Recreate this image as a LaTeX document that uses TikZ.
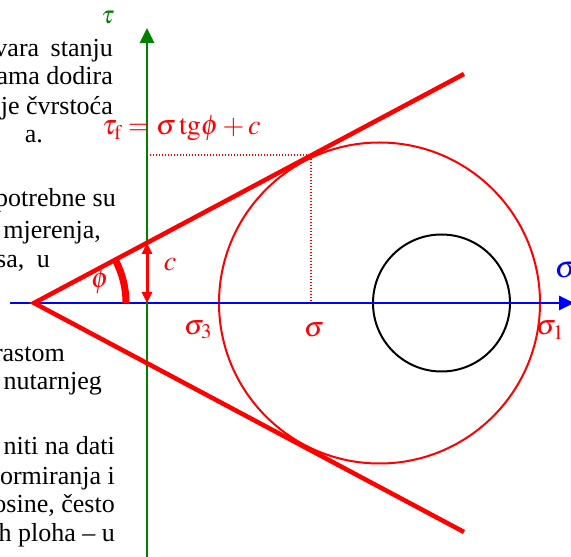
\documentclass[tikz,border=0pt]{standalone}
\usepackage{mathptmx}
\usepackage{fontspec}
\setmainfont{Liberation Serif}
\usetikzlibrary{arrows.meta,calc}
\definecolor{taugreen}{RGB}{0,128,0}

\begin{document}
\begin{tikzpicture}[
  x=1pt,y=1pt,
  font=\fontsize{28}{32}\selectfont,
  >={Triangle[length=15pt,width=14pt]},
  axis/.style={->,line width=2.8pt},
  env/.style={draw=red,line width=4.5pt},
  mohr/.style={draw=#1,line width=2pt},
  guide/.style={draw=red,line width=1.4pt,dash pattern=on 1.4pt off 1.6pt},
  lbl/.style={text=red,inner sep=0pt},
  body/.style={anchor=base east,inner sep=0pt,font=\fontsize{26}{29}\selectfont},
]
\useasboundingbox (0,0) rectangle (571,557);

% ---- page text behind the figure ----
\foreach \txt/\xr/\yb [count=\i] in {
    {vara\hspace{5pt} stanju}/113/500, {ama dodira}/113/472, {je čvrstoća}/113/442,
    {a.}/43/414, {potrebne su}/116/350, {mjerenja,}/101/318, {sa,\hspace{6pt} u}/50/289,
    {rastom}/65/195, {nutarnjeg}/102/167, {niti na dati}/115/102,
    {ormiranja i}/115/72, {osine, često}/115/44, {h ploha -- u}/115/15}
  \node[body] (txt\i) at (\xr,\yb) {\txt};

% ---- points ----
\coordinate (O) at (34,254);
\coordinate (U) at (464,483);
\coordinate (L) at (464,25);
\coordinate (C1) at (379.5,254);
\coordinate (C2) at (441.5,254);
\coordinate (T) at (311,402);
\coordinate (Tt) at (150,402);
\coordinate (Ts) at (311,254);
\coordinate (A) at (147,254);
\coordinate (Ac) at (147,314);

% ---- Mohr circles ----
\draw[guide] (Tt) -- (T) -- (Ts);
\draw[mohr=red] (C1) circle[radius=160.5];
\draw[mohr=black] (C2) circle[radius=68.5];

% ---- axes ----
\draw[axis,blue] (10,254) -- (574,254);
\draw[axis,taugreen] (147,0) -- (147,529);

% ---- failure envelope ----
\draw[env] (U) -- (O) -- (L);
\draw[red,line width=7pt] ($(O)+(92,0)$) arc[start angle=0,end angle=28,radius=92];
\draw[<->,red,line width=3pt,>={Triangle[length=11pt,width=10pt]}] (A) -- (Ac);

% ---- labels ----
\node[text=taugreen,inner sep=0pt,font=\fontsize{25}{28}\selectfont] (tau) at (108,539) {$\tau$};
\node[lbl,anchor=base west] (law) at (102,422) {$\tau_{\mathrm{f}} = \sigma\,\mathrm{tg}\phi + c$};
\node[lbl] (lc) at (170,292) {$c$};
\node[lbl] (lphi) at (100,276) {$\phi$};
\node[lbl] (ls3) at (198,227) {$\sigma_3$};
\node[lbl] (ls) at (314,227) {$\sigma$};
\node[lbl] (ls1) at (550,227) {$\sigma_1$};
\node[text=blue,inner sep=0pt,font=\fontsize{31}{34}\selectfont] (sig) at (566,287) {$\sigma$};
\end{tikzpicture}
\end{document}
